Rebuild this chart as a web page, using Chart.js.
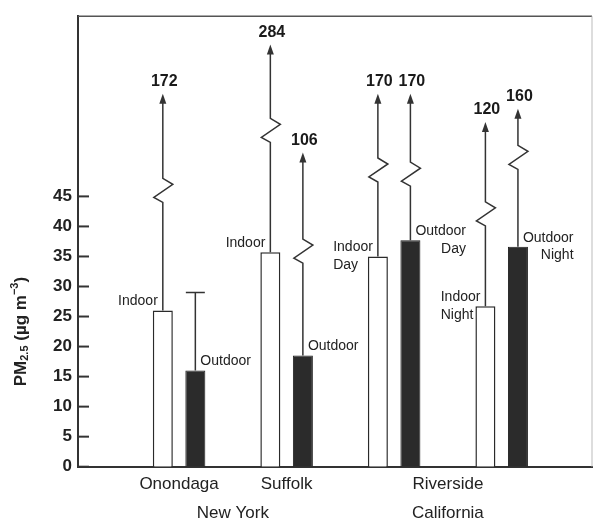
<!DOCTYPE html>
<html>
<head>
<meta charset="utf-8">
<script src="https://cdn.jsdelivr.net/npm/chart.js@4"></script>
<style>
  html, body { margin: 0; padding: 0; background: #fff; }
  #wrap { width: 593px; height: 522px; position: relative; }
</style>
</head>
<body>
<div id="wrap"><canvas id="pm"></canvas></div>
<script>
// site pairs (indoor / outdoor), Riverside split in day and night
const sites = ['Onondaga', 'Suffolk', 'Riverside', 'Riverside'];
const periods = ['', '', 'Day', 'Night'];

// mean PM2.5, ug/m3
const indoor = [26, 35.7, 35, 26.7];
const outdoor = [16, 18.5, 37.7, 36.6];

// top of the whisker (maximum)
const indoorMax = [172, 284, 170, 120];
const outdoorMax = [29, 106, 170, 160];

// broken whiskers: where they break and where the arrow ends on the truncated axis
const indoorBreakAt = [44.0, 54.0, 47.4, 40.1];
const indoorArrowAt = [62.1, 70.3, 62.1, 57.4];
const outdoorBreakAt = [null, 33.9, 46.7, 49.5];
const outdoorArrowAt = [null, 52.3, 62.1, 59.6];

// axis ticks
const yTickMax = 45;
const xTicks = [0, 1, 2.5];
const xTickLabels = ['Onondaga', 'Suffolk', 'Riverside'];
const regions = ['New York', 'California'];
const regionAt = [0.5, 2.5];

const FONT = '"Liberation Sans", Arial, sans-serif';
const INK = '#222';

const whiskers = {
    id: 'whiskers',
    afterDatasetsDraw(chart) {
        const { ctx, scales: { y } } = chart;
        const sets = [
            { max: indoorMax, brk: indoorBreakAt, arrow: indoorArrowAt },
            { max: outdoorMax, brk: outdoorBreakAt, arrow: outdoorArrowAt }
        ];
        ctx.save();
        ctx.strokeStyle = '#333';
        ctx.fillStyle = '#333';
        ctx.lineWidth = 1.5;
        ctx.lineJoin = 'miter';
        sets.forEach((s, d) => {
            chart.getDatasetMeta(d).data.forEach((bar, i) => {
                const x = bar.x;
                const max = s.max[i];
                ctx.beginPath();
                ctx.moveTo(x, bar.y);
                if (max <= yTickMax) {
                    const yc = y.getPixelForValue(max);
                    ctx.lineTo(x, yc);
                    ctx.moveTo(x - 9.5, yc);
                    ctx.lineTo(x + 9.5, yc);
                    ctx.stroke();
                    return;
                }
                const yb = y.getPixelForValue(s.brk[i]);
                const ya = y.getPixelForValue(s.arrow[i]);
                ctx.lineTo(x, yb);
                ctx.lineTo(x - 9, yb - 5);
                ctx.lineTo(x + 10, yb - 18);
                ctx.lineTo(x, yb - 24);
                ctx.lineTo(x, ya + 8);
                ctx.stroke();

                ctx.beginPath();
                ctx.moveTo(x, ya);
                ctx.lineTo(x - 3.5, ya + 10);
                ctx.lineTo(x + 3.5, ya + 10);
                ctx.closePath();
                ctx.fill();

                ctx.fillStyle = '#1a1a1a';
                ctx.font = 'bold 16px ' + FONT;
                ctx.textAlign = 'center';
                ctx.textBaseline = 'middle';
                ctx.fillText(String(max), x + 1.5, ya - 12);
                ctx.fillStyle = '#333';
            });
        });

        // bar names
        ctx.font = '14px ' + FONT;
        ctx.fillStyle = INK;
        ctx.textBaseline = 'middle';
        ['Indoor', 'Outdoor'].forEach((name, d) => {
            chart.getDatasetMeta(d).data.forEach((bar, i) => {
                const lines = periods[i] ? [name, periods[i]] : [name];
                const w = Math.max(...lines.map(t => ctx.measureText(t).width));
                lines.forEach((t, k) => {
                    const ty = bar.y - 9 + k * 17.5;
                    if (d === 0) {
                        ctx.textAlign = 'left';
                        ctx.fillText(t, bar.x - 5 - w, ty);
                    } else {
                        ctx.textAlign = 'right';
                        ctx.fillText(t, bar.x + 5 + w, ty);
                    }
                });
            });
        });
        ctx.restore();
    }
};

const frame = {
    id: 'frame',
    afterDraw(chart) {
        const { ctx, chartArea: { left, right, top, bottom }, scales: { x, y } } = chart;
        ctx.save();
        ctx.strokeStyle = '#555';
        ctx.lineWidth = 1.5;
        ctx.beginPath();
        ctx.moveTo(left, top);
        ctx.lineTo(right, top);
        ctx.stroke();
        ctx.strokeStyle = '#bbb';
        ctx.lineWidth = 1;
        ctx.beginPath();
        ctx.moveTo(right, top);
        ctx.lineTo(right, bottom);
        ctx.stroke();

        // inward tick marks
        ctx.strokeStyle = '#333';
        ctx.lineWidth = 2;
        y.ticks.forEach(t => {
            const py = y.getPixelForValue(t.value);
            ctx.beginPath();
            ctx.moveTo(left, py);
            ctx.lineTo(left + 11, py);
            ctx.stroke();
        });

        // state names under the sites
        ctx.fillStyle = INK;
        ctx.font = '17px ' + FONT;
        ctx.textAlign = 'center';
        ctx.textBaseline = 'middle';
        regions.forEach((r, i) => ctx.fillText(r, x.getPixelForValue(regionAt[i]), 513));

        // y title with sub/superscript
        const parts = [
            { t: 'PM', f: 'bold 17px ', dy: 0 },
            { t: '2.5', f: 'bold 11px ', dy: 4 },
            { t: ' (\u00b5g m', f: 'bold 17px ', dy: 0 },
            { t: '\u22123', f: 'bold 11px ', dy: -6 },
            { t: ')', f: 'bold 17px ', dy: 0 }
        ];
        let total = 0;
        parts.forEach(p => { ctx.font = p.f + FONT; p.w = ctx.measureText(p.t).width; total += p.w; });
        const cy = (y.getPixelForValue(0) + y.getPixelForValue(yTickMax)) / 2;
        ctx.translate(21, cy);
        ctx.rotate(-Math.PI / 2);
        ctx.textAlign = 'left';
        let px = -total / 2;
        parts.forEach(p => {
            ctx.font = p.f + FONT;
            ctx.fillText(p.t, px, p.dy);
            px += p.w;
        });
        ctx.restore();
    }
};

new Chart(document.getElementById('pm'), {
    type: 'bar',
    plugins: [whiskers, frame],
    data: {
        datasets: [
            {
                label: 'Indoor',
                data: indoor.map((v, i) => ({ x: i, y: v })),
                backgroundColor: '#ffffff',
                borderColor: '#2a2a2a',
                borderWidth: 1.5
            },
            {
                label: 'Outdoor',
                data: outdoor.map((v, i) => ({ x: i, y: v })),
                backgroundColor: '#2b2b2b',
                borderColor: '#1e1e1e',
                borderWidth: 1
            }
        ]
    },
    options: {
        animation: false,
        responsive: true,
        maintainAspectRatio: false,
        datasets: { bar: { categoryPercentage: 0.605, barPercentage: 0.615 } },
        layout: { padding: { top: 10, right: 1, left: 0, bottom: 0 } },
        plugins: { legend: { display: false }, tooltip: { enabled: false } },
        scales: {
            x: {
                type: 'linear',
                min: -0.94,
                max: 3.84,
                offset: false,
                grid: { display: false, drawTicks: false },
                border: { display: true, color: '#333', width: 2 },
                afterBuildTicks: s => { s.ticks = xTicks.map(v => ({ value: v })); },
                afterFit: s => { s.height = 55.3; },
                ticks: {
                    autoSkip: false,
                    maxRotation: 0,
                    padding: 7,
                    color: INK,
                    font: { family: FONT, size: 17 },
                    callback: v => xTickLabels[xTicks.indexOf(v)] ?? ''
                }
            },
            y: {
                min: 0,
                max: 75,
                grid: { display: false, drawTicks: false },
                border: { display: true, color: '#333', width: 2 },
                afterBuildTicks: s => { s.ticks = s.ticks.filter(t => t.value <= yTickMax); },
                afterFit: s => { s.width = 78; },
                ticks: {
                    stepSize: 5,
                    padding: 6,
                    color: INK,
                    font: { family: FONT, size: 17, weight: 'bold' }
                }
            }
        }
    }
});
</script>
</body>
</html>
